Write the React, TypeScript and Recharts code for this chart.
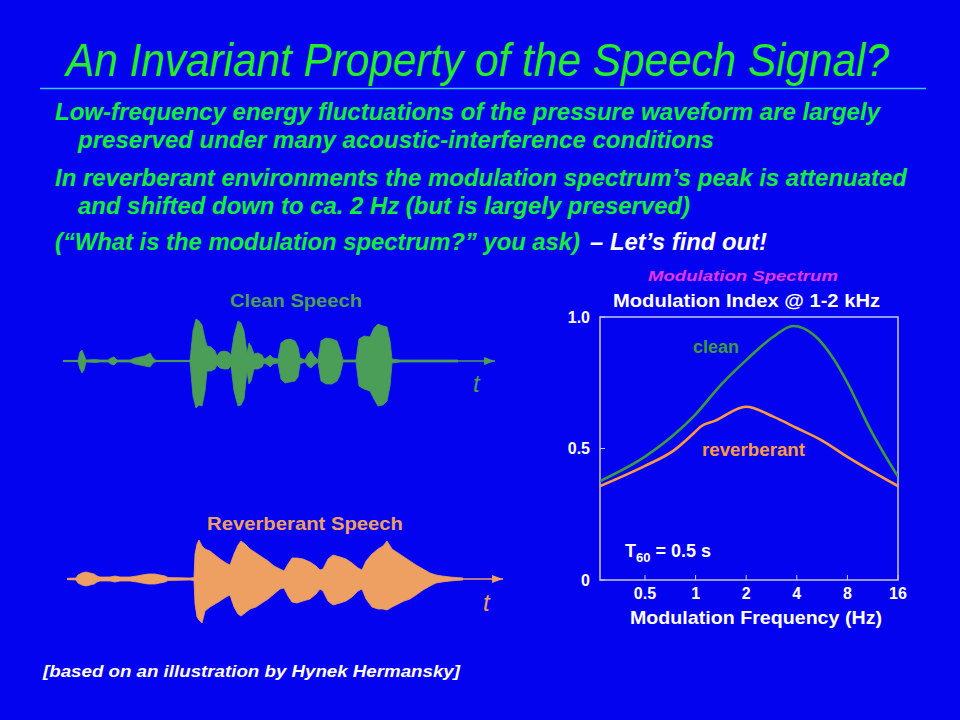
import React from 'react';
import {
  LineChart, Line, XAxis, YAxis, ReferenceArea,
  AreaChart, Area, ReferenceLine, ReferenceDot,
} from 'recharts';

// ---------- Modulation spectrum (Modulation Index @ 1-2 kHz) ----------
const modFreqClean = [0.27, 0.5, 0.74, 1, 1.41, 2, 2.9, 3.8, 5.1, 6.7, 8, 11, 16];
const modIndexClean = [0.376, 0.469, 0.551, 0.63, 0.741, 0.836, 0.925, 0.966, 0.93, 0.836, 0.75, 0.57, 0.393];
const modFreqReverb = [0.27, 0.5, 0.74, 1, 1.07, 1.3, 2, 2.9, 4, 5.6, 8, 16];
const modIndexReverb = [0.357, 0.434, 0.492, 0.565, 0.583, 0.605, 0.659, 0.621, 0.578, 0.532, 0.468, 0.357];
const freqTicks = [0.5, 1, 2, 4, 8, 16];
const indexTicks = [0, 0.5, 1];

// ---------- Clean speech waveform envelope (arbitrary time / amplitude units) ----------
const cleanTime = [0, 15, 17, 19, 21, 23, 32, 37, 45, 48, 51, 54, 67, 72, 77, 82, 87, 90, 93, 127, 130, 133, 136, 139, 142, 144, 148, 152, 154, 157, 161, 165, 168, 171, 175, 178, 181, 184, 186, 188, 191, 195, 199, 201, 205, 207, 210, 215, 218, 222, 227, 232, 235, 237, 242, 245, 248, 251, 255, 258, 263, 269, 274, 277, 280, 293, 296, 301, 307, 311, 315, 320, 324, 327, 329, 337, 395];
const cleanUpper = [0.6, 0.6, 9, 11, 6, 1, 1.5, 1, 1, 3, 4, 1, 1, 3, 4, 5, 8, 3, 0.6, 0.6, 30, 42, 40, 36, 22, 15, 14, 10, 5, 9, 10, 9, 6, 25, 40, 38, 30, 8, 18, 15, 7, 8, 6, 2, 4, 6, 3, 2, 18, 21, 22, 20, 14, 3, 1, 7, 10, 5, 1, 20, 23, 22, 20, 12, 1, 1, 22, 25, 24, 33, 37, 35, 34, 20, 2, 1, 1];
const cleanLower = [-0.6, -0.6, -8, -12, -9, -1, -1.5, -1, -1, -3, -4, -1, -1, -3, -4, -5, -6, -2, -0.6, -0.6, -35, -47, -44, -45, -30, -10, -10, -8, -4, -7, -8, -8, -5, -30, -45, -44, -38, -10, -23, -20, -8, -8, -6, -2, -4, -6, -3, -2, -18, -22, -21, -20, -16, -3, -1, -5, -7, -4, -1, -20, -23, -23, -20, -14, -1, -1, -25, -28, -30, -38, -45, -44, -40, -25, -2, -1, -1];

// ---------- Reverberant speech waveform envelope ----------
const reverbTime = [0, 9, 11, 15, 19, 23, 27, 30, 33, 43, 48, 53, 63, 70, 75, 81, 88, 93, 98, 101, 123, 127, 128, 130, 132, 135, 138, 143, 148, 153, 159, 163, 167, 171, 174, 178, 183, 189, 195, 201, 207, 213, 217, 221, 225, 230, 236, 243, 249, 253, 256, 261, 266, 273, 279, 285, 291, 295, 299, 305, 311, 316, 320, 325, 331, 337, 343, 349, 356, 363, 369, 375, 383, 389, 396];
const reverbUpper = [0.6, 1, 4, 6, 7, 6, 5, 3, 2, 2, 3, 2, 2, 3, 4, 5, 5, 4, 3, 1.5, 1, 1.5, 25, 35, 39, 33, 30, 28, 24, 20, 16, 14, 25, 34, 38, 35, 30, 26, 22, 18, 13, 10, 8, 15, 21, 21, 20, 17, 13, 9, 10, 20, 24, 22, 20, 16, 11, 9, 18, 25, 30, 33, 38, 30, 26, 22, 18, 14, 10, 6, 4, 3, 2, 1.5, 1];
const reverbLower = [-0.6, -1, -4, -6, -7, -6, -5, -3, -2, -2, -3, -2, -2, -3, -4, -5, -5, -4, -3, -1.5, -1, -1.5, -25, -38, -41, -44, -32, -28, -25, -22, -18, -16, -28, -35, -37, -34, -30, -28, -24, -20, -15, -10, -9, -17, -23, -24, -22, -20, -15, -10, -12, -22, -26, -24, -22, -18, -12, -10, -20, -28, -30, -30, -31, -28, -25, -22, -20, -16, -11, -7, -4, -3, -2, -1.5, -1];

const cleanData = cleanTime.map((t, i) => ({ t, amp: [cleanLower[i], cleanUpper[i]] }));
const reverbData = reverbTime.map((t, i) => ({ t, amp: [reverbLower[i], reverbUpper[i]] }));
const cleanSpec = modFreqClean.map((f, i) => ({ f, v: modIndexClean[i] }));
const reverbSpec = modFreqReverb.map((f, i) => ({ f, v: modIndexReverb[i] }));

const BG = '#0303f0';
const FONT = "'Liberation Sans', Arial, Helvetica, sans-serif";
const WAVE_GREEN = '#4a9e58';
const WAVE_ORANGE = '#eea062';
const LINE_GREEN = '#3a9c3e';
const LINE_ORANGE = '#ff9a40';
const BULLET_GREEN = '#12ee3a';
const BOX = '#c8c8f4';

const makeArrow = (color: string, len: number, half: number) => (props: any) => {
  const { cx, cy } = props;
  if (cx == null || cy == null) return <g />;
  return <polygon points={`${cx - len},${cy - half} ${cx},${cy} ${cx - len},${cy + half}`} fill={color} />;
};

function Waveform({ data, color, span, left, top }: any) {
  return (
    <div style={{ position: 'absolute', left, top }}>
      <AreaChart width={span} height={100} data={data} margin={{ top: 0, right: 0, bottom: 0, left: 0 }}>
        <XAxis type="number" dataKey="t" domain={[0, span]} hide />
        <YAxis type="number" domain={[-50, 50]} hide />
        <ReferenceLine y={0} stroke={color} strokeWidth={1.6} ifOverflow="visible" />
        <Area type="linear" dataKey="amp" stroke={color} strokeWidth={0.8} fill={color} fillOpacity={1} isAnimationActive={false} dot={false} activeDot={false} />
        <ReferenceDot x={span} y={0} r={0} ifOverflow="visible" shape={makeArrow(color, 11, 4)} />
      </AreaChart>
    </div>
  );
}

export default function App() {
  const tickStyle = { fill: '#ffffff', fontSize: 16, fontWeight: 700, fontFamily: FONT };
  return (
    <div style={{ position: 'absolute', left: 0, top: 0, width: 960, height: 720, background: BG, overflow: 'hidden', fontFamily: FONT }}>
      <Waveform data={cleanData} color={WAVE_GREEN} span={432} left={63} top={311} />
      <Waveform data={reverbData} color={WAVE_ORANGE} span={436} left={67} top={529} />

      <div style={{ position: 'absolute', left: 540, top: 260 }}>
        <LineChart width={400} height={380} margin={{ top: 57, right: 42, bottom: 30, left: 10 }}>
          <XAxis
            type="number" dataKey="f" scale="log" domain={[0.27, 16]} allowDataOverflow
            ticks={freqTicks} tick={tickStyle} tickFormatter={(v: number) => String(v)}
            axisLine={false} tickLine={{ stroke: BOX }} tickSize={-5} tickMargin={13} height={30}
          />
          <YAxis
            type="number" domain={[0, 1]} ticks={indexTicks} tick={tickStyle} width={50}
            tickFormatter={(v: number) => (v === 0 ? '0' : v.toFixed(1))}
            axisLine={false} tickLine={{ stroke: BOX }} tickSize={-5} tickMargin={15}
          />
          <ReferenceArea x1={0.27} x2={16} y1={0} y2={1} fill="none" stroke={BOX} strokeWidth={1.5} ifOverflow="visible" />
          <Line data={cleanSpec} dataKey="v" type="monotone" stroke={LINE_GREEN} strokeWidth={2.6} dot={false} activeDot={false} isAnimationActive={false} />
          <Line data={reverbSpec} dataKey="v" type="monotone" stroke={LINE_ORANGE} strokeWidth={2.6} dot={false} activeDot={false} isAnimationActive={false} />
        </LineChart>
      </div>

      <svg width={960} height={720} style={{ position: 'absolute', left: 0, top: 0, pointerEvents: 'none' }}>
        <text x={66} y={76} fontSize={46} fontStyle="italic" fill="#22f022" fontFamily="'Liberation Sans Narrow', 'Liberation Sans', Arial, sans-serif" textLength={823} lengthAdjust="spacingAndGlyphs">An Invariant Property of the Speech Signal?</text>
        <line x1={40} y1={88.5} x2={926} y2={88.5} stroke="#40c8f0" strokeWidth={1.5} />

        <g fontFamily={FONT} fontWeight={700} fontStyle="italic" fontSize={23} fill={BULLET_GREEN}>
          <text x={55} y={120} textLength={825} lengthAdjust="spacingAndGlyphs">Low-frequency energy fluctuations of the pressure waveform are largely</text>
          <text x={78} y={148} textLength={636} lengthAdjust="spacingAndGlyphs">preserved under many acoustic-interference conditions</text>
          <text x={55} y={186} textLength={852} lengthAdjust="spacingAndGlyphs">In reverberant  environments the modulation spectrum’s peak is attenuated</text>
          <text x={78} y={214} textLength={612} lengthAdjust="spacingAndGlyphs">and shifted down to ca. 2 Hz (but is largely preserved)</text>
          <text x={55} y={250} textLength={525} lengthAdjust="spacingAndGlyphs">(“What is the modulation spectrum?” you ask)</text>
          <text x={590} y={250} textLength={177} lengthAdjust="spacingAndGlyphs" fill="#ffffff">– Let’s find out!</text>
        </g>

        <text x={43} y={677} fontFamily={FONT} fontWeight={700} fontStyle="italic" fontSize={17} fill="#ffffff" textLength={417} lengthAdjust="spacingAndGlyphs">[based on an illustration by Hynek Hermansky]</text>

        <g fontFamily={FONT} fontWeight={700}>
          <text x={230} y={307} fontSize={19} fill={WAVE_GREEN} textLength={132} lengthAdjust="spacingAndGlyphs">Clean Speech</text>
          <text x={207} y={530} fontSize={19} fill={WAVE_ORANGE} textLength={196} lengthAdjust="spacingAndGlyphs">Reverberant Speech</text>
          <text x={473} y={392} fontSize={24} fontWeight={400} fontStyle="italic" fill={WAVE_GREEN}>t</text>
          <text x={483} y={611} fontSize={24} fontWeight={400} fontStyle="italic" fill={WAVE_ORANGE}>t</text>

          <text x={648} y={281} fontSize={15} fontStyle="italic" fill="#e436e8" textLength={190} lengthAdjust="spacingAndGlyphs">Modulation Spectrum</text>
          <text x={613} y={307} fontSize={19} fill="#ffffff" textLength={267} lengthAdjust="spacingAndGlyphs">Modulation Index @ 1-2 kHz</text>
          <text x={630} y={624} fontSize={19} fill="#ffffff" textLength={252} lengthAdjust="spacingAndGlyphs">Modulation Frequency (Hz)</text>
          <text x={693} y={353} fontSize={18} fill={LINE_GREEN} textLength={46} lengthAdjust="spacingAndGlyphs">clean</text>
          <text x={702} y={456} fontSize={18} fill={LINE_ORANGE} textLength={103} lengthAdjust="spacingAndGlyphs">reverberant</text>
          <text x={625} y={557} fontSize={18} fill="#ffffff">
            T<tspan fontSize={13} dy={5}>60</tspan><tspan dy={-5}> = 0.5 s</tspan>
          </text>
        </g>
      </svg>
    </div>
  );
}
